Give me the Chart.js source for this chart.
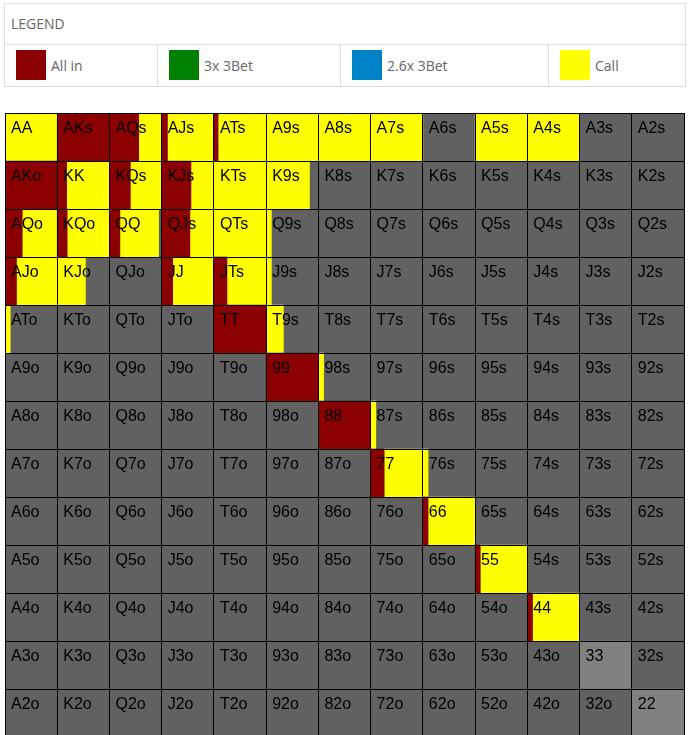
<!DOCTYPE html>
<html>
<head>
<meta charset="utf-8">
<script src="https://cdn.jsdelivr.net/npm/chart.js@4.4.1/dist/chart.umd.min.js"></script>
<style>
html,body{margin:0;padding:0;background:#fff;overflow:hidden;width:689px;height:735px;}
#legend{position:absolute;left:4px;top:3px;width:680px;height:82px;border:1px solid #ddd;font-family:"Open Sans",sans-serif;color:#666;}
#legend .hdr{height:40px;border-bottom:1px solid #ddd;font-size:14px;line-height:40px;padding-left:6px;}
#legend .row{position:relative;height:41px;}
.item{position:absolute;top:0;height:41px;box-sizing:border-box;border-right:1px solid #ddd;}
.item:last-child{border-right:none;}
.sw{position:absolute;left:11px;top:5px;width:30px;height:30px;}
.lbl{position:absolute;left:46px;top:0;line-height:41px;font-size:14px;}
#wrap{position:absolute;left:4px;top:112px;width:681px;height:626px;}
</style>
</head>
<body>
<div id="legend">
  <div class="hdr">LEGEND</div>
  <div class="row" id="legendRow"></div>
</div>
<div id="wrap"><canvas id="c" width="681" height="626"></canvas></div>
<script>
// ---- data ----
const ranks = ['A','K','Q','J','T','9','8','7','6','5','4','3','2'];
const seriesNames = ['All in','3x 3Bet','2.6x 3Bet','Call'];
const seriesColors = ['#8b0000','#008000','#0082c6','#ffff00'];
const legendEdges = [0,153,336,544,680];   // item column boundaries (legend table)
const foldColor = '#616161';
const dimColor = '#818181';
const dimmedHands = ['33','22'];

// fraction of each hand (row = first rank, col = second rank)
const allIn = [
  [0,   1,   0.56,0.11,0.08,0,0,0,0,0,0,0,0],
  [1,   0.18,0.40,0.56,0,   0,0,0,0,0,0,0,0],
  [0.33,0.19,0.20,0.54,0,   0,0,0,0,0,0,0,0],
  [0.22,0,   0,   0.21,0.25,0,0,0,0,0,0,0,0],
  [0,   0,   0,   0,   1,   0,0,0,0,0,0,0,0],
  [0,0,0,0,0,1,0,0,0,0,0,0,0],
  [0,0,0,0,0,0,1,0,0,0,0,0,0],
  [0,0,0,0,0,0,0,0.26,0,0,0,0,0],
  [0,0,0,0,0,0,0,0,0.1,0,0,0,0],
  [0,0,0,0,0,0,0,0,0,0.1,0,0,0],
  [0,0,0,0,0,0,0,0,0,0,0.1,0,0],
  [0,0,0,0,0,0,0,0,0,0,0,0,0],
  [0,0,0,0,0,0,0,0,0,0,0,0,0]
];
const bet3x = [
  [0,0,0,0,0,0,0,0,0,0,0,0,0],[0,0,0,0,0,0,0,0,0,0,0,0,0],[0,0,0,0,0,0,0,0,0,0,0,0,0],
  [0,0,0,0,0,0,0,0,0,0,0,0,0],[0,0,0,0,0,0,0,0,0,0,0,0,0],[0,0,0,0,0,0,0,0,0,0,0,0,0],
  [0,0,0,0,0,0,0,0,0,0,0,0,0],[0,0,0,0,0,0,0,0,0,0,0,0,0],[0,0,0,0,0,0,0,0,0,0,0,0,0],
  [0,0,0,0,0,0,0,0,0,0,0,0,0],[0,0,0,0,0,0,0,0,0,0,0,0,0],[0,0,0,0,0,0,0,0,0,0,0,0,0],
  [0,0,0,0,0,0,0,0,0,0,0,0,0]
];
const bet26x = bet3x.map(r => r.slice());
const call = [
  [1,   0,   0.44,0.89,0.92,1,   1,1,0,1,1,0,0],
  [0,   0.82,0.60,0.44,1,   0.83,0,0,0,0,0,0,0],
  [0.67,0.81,0.74,0.46,1,   0.10,0,0,0,0,0,0,0],
  [0.78,0.54,0,   0.79,0.75,0.10,0,0,0,0,0,0,0],
  [0.10,0,   0,   0,   0,   0.33,0,0,0,0,0,0,0],
  [0,0,0,0,0,0,0.1,0,0,0,0,0,0],
  [0,0,0,0,0,0,0,0.1,0,0,0,0,0],
  [0,0,0,0,0,0,0,0.74,0.1,0,0,0,0],
  [0,0,0,0,0,0,0,0,0.9,0,0,0,0],
  [0,0,0,0,0,0,0,0,0,0.9,0,0,0],
  [0,0,0,0,0,0,0,0,0,0,0.9,0,0],
  [0,0,0,0,0,0,0,0,0,0,0,0,0],
  [0,0,0,0,0,0,0,0,0,0,0,0,0]
];
const series = [allIn, bet3x, bet26x, call];

// ---- helpers ----
function handName(r, c) {
  if (r === c) return ranks[r] + ranks[c];
  if (c > r) return ranks[r] + ranks[c] + 's';
  return ranks[c] + ranks[r] + 'o';
}

// legend
const row = document.getElementById('legendRow');
seriesNames.forEach((n, i) => {
  const d = document.createElement('div');
  d.className = 'item';
  d.style.left = legendEdges[i] + 'px';
  d.style.width = (legendEdges[i+1] - legendEdges[i]) + 'px';
  d.innerHTML = '<div class="sw" style="background:' + seriesColors[i] + '"></div><div class="lbl">' + n + '</div>';
  row.appendChild(d);
});

// background (fold) cells
const bgData = [], bgColors = [];
for (let r = 0; r < 13; r++) for (let c = 0; c < 13; c++) {
  bgData.push({x: [c, c + 1], y: ranks[r]});
  bgColors.push(dimmedHands.includes(handName(r, c)) ? dimColor : foldColor);
}
// action segments, placed left to right inside each cell
const actionData = series.map(() => []);
for (let r = 0; r < 13; r++) for (let c = 0; c < 13; c++) {
  let start = c;
  series.forEach((m, k) => {
    const f = m[r][c];
    if (f > 0) { actionData[k].push({x: [start, start + f], y: ranks[r]}); start += f; }
  });
}

const datasets = [];
series.forEach((m, k) => datasets.push({
  label: seriesNames[k], data: actionData[k], backgroundColor: seriesColors[k],
  borderWidth: 0, grouped: false, order: 1, categoryPercentage: 1, barPercentage: 1
}));
datasets.push({
  label: 'Fold', data: bgData, backgroundColor: bgColors, borderWidth: 0,
  grouped: false, order: 10, categoryPercentage: 1, barPercentage: 1
});

const cellLabels = {
  id: 'cellLabels',
  afterDatasetsDraw(chart) {
    const {ctx, scales: {x, y}} = chart;
    ctx.save();
    ctx.font = '16px "Liberation Sans", Arial, sans-serif';
    ctx.fillStyle = '#000';
    ctx.textBaseline = 'alphabetic';
    const h = y.getPixelForValue(1) - y.getPixelForValue(0);
    for (let r = 0; r < 13; r++) for (let c = 0; c < 13; c++) {
      const left = x.getPixelForValue(c);
      const top = y.getPixelForValue(r) - h / 2;
      ctx.fillText(handName(r, c), left + 6, top + 20);
    }
    ctx.restore();
  }
};

new Chart(document.getElementById('c'), {
  type: 'bar',
  data: { labels: ranks, datasets },
  options: {
    indexAxis: 'y',
    responsive: false,
    animation: false,
    layout: { padding: {left: 1, top: 1, right: 1, bottom: 1} },
    plugins: { legend: {display: false}, tooltip: {enabled: false} },
    scales: {
      x: {
        type: 'linear', min: 0, max: 13,
        ticks: {display: false, stepSize: 1},
        grid: {color: '#000', lineWidth: 1, drawTicks: false, z: 1},
        border: {display: true, color: '#000', z: 1}
      },
      y: {
        type: 'category', offset: true,
        ticks: {display: false},
        grid: {color: '#000', lineWidth: 1, drawTicks: false, offset: true, z: 1},
        border: {display: true, color: '#000', z: 1}
      }
    }
  },
  plugins: [cellLabels]
});
</script>
</body>
</html>
